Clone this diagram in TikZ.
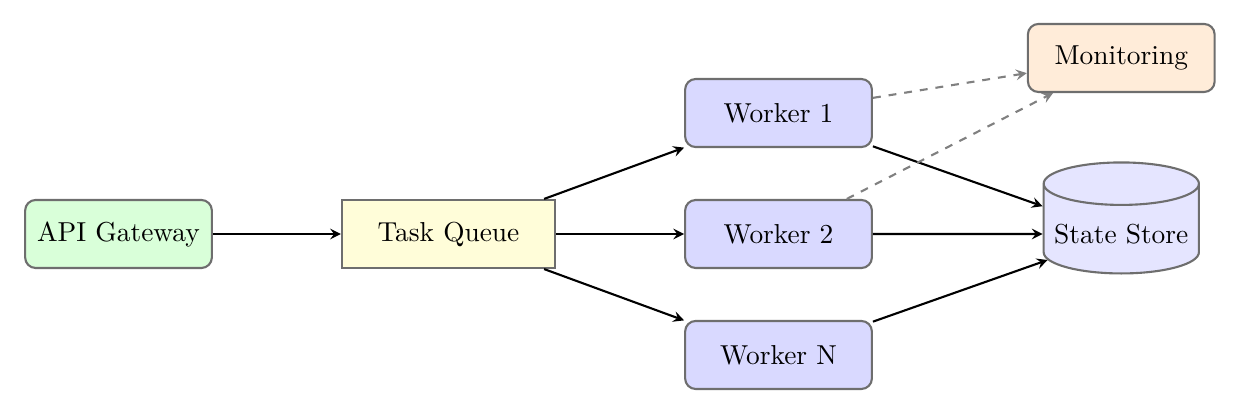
\documentclass[tikz,border=0pt]{standalone}
\usetikzlibrary{shapes.geometric,arrows}
\definecolor{bordergray}{RGB}{110,110,110}
\tikzset{
  every node/.style={font=\fontsize{10.4pt}{12.5pt}\selectfont},
  box/.style={draw=bordergray, thick, rounded corners=4pt, minimum width=2.49cm, minimum height=0.907cm, align=center},
  gatebox/.style={box, fill=green!15},
  workerbox/.style={box, fill=blue!15},
  monbox/.style={box, fill=orange!15},
  queuebox/.style={draw=bordergray, thick, fill=yellow!15, minimum width=2.84cm, minimum height=0.907cm},
  storebox/.style={cylinder, shape border rotate=90, draw=bordergray, thick, fill=blue!10, aspect=0.28, minimum width=2.07cm, minimum height=1.48cm},
  flow/.style={->, >=stealth, thick, black},
  mon/.style={->, >=stealth, thick, dashed, gray}
}
\begin{document}
\begin{tikzpicture}
\useasboundingbox (0,0) rectangle (16.533,5.52);
\node[gatebox] (gw) at (1.58,2.40) {API Gateway};
\node[queuebox] (q) at (5.98,2.40) {Task Queue};
\node[workerbox] (w1) at (10.38,4.013) {Worker 1};
\node[workerbox] (w2) at (10.38,2.40) {Worker 2};
\node[workerbox] (wn) at (10.38,0.787) {Worker N};
\node[monbox] (mon) at (14.95,4.747) {Monitoring};
\node[storebox] (st) at (14.95,2.40) {State Store};
\draw[flow] (gw) -- (q);
\draw[flow] (q) -- (w1);
\draw[flow] (q) -- (w2);
\draw[flow] (q) -- (wn);
\draw[flow] (w1) -- (st);
\draw[flow] (w2) -- (st);
\draw[flow] (wn) -- (st);
\draw[mon] (w1) -- (mon);
\draw[mon] (w2) -- (mon);
\end{tikzpicture}
\end{document}
